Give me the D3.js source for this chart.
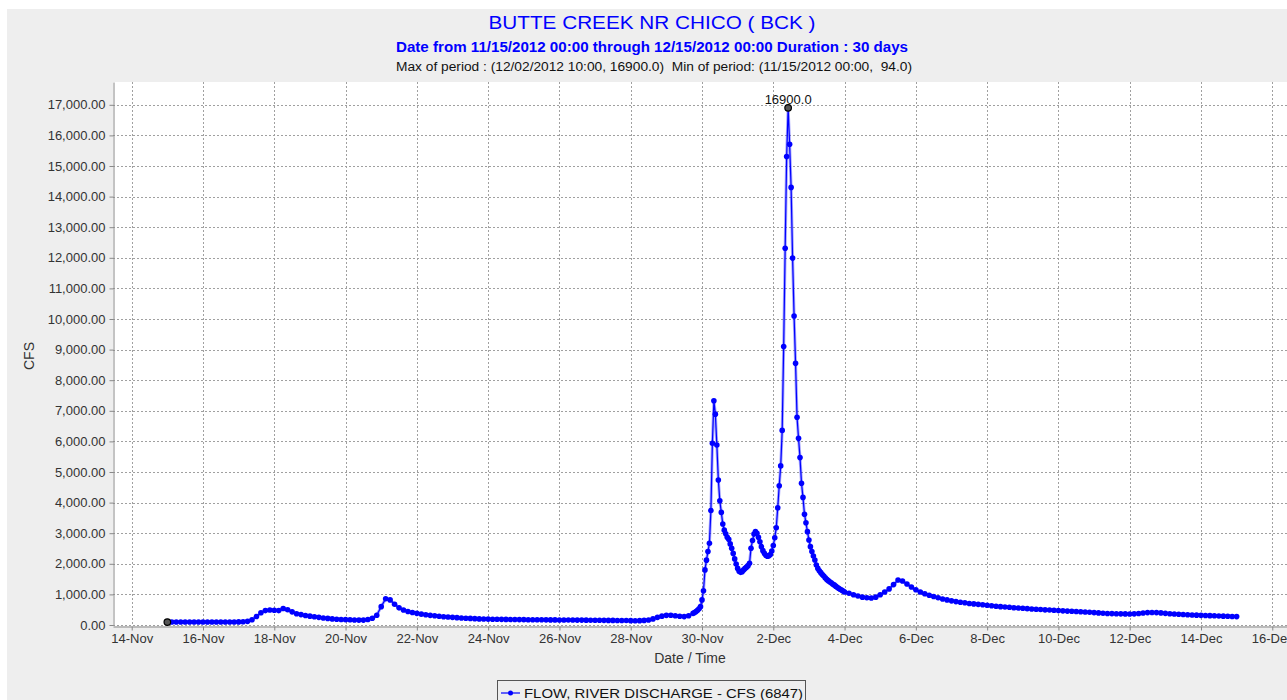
<!DOCTYPE html>
<html>
<head>
<meta charset="utf-8">
<script src="https://cdnjs.cloudflare.com/ajax/libs/d3/7.8.5/d3.min.js"></script>
<style>
  body { margin: 0; background: #fff; }
  text { font-family: "Liberation Sans", Arial, sans-serif; }
</style>
</head>
<body>
<script>
/*
 * Butte Creek nr Chico (BCK) - river flow, 11/15/2012 to 12/15/2012
 */

var titleText = "BUTTE CREEK NR CHICO ( BCK )";
var subTitleText = "Date from 11/15/2012 00:00 through 12/15/2012 00:00 Duration : 30 days";
var statsText = "Max of period : (12/02/2012 10:00, 16900.0)  Min of period: (11/15/2012 00:00,  94.0)";
var legendText = "FLOW, RIVER DISCHARGE - CFS (6847)";
var peakLabel = "16900.0";

var yTicks = [0, 1000, 2000, 3000, 4000, 5000, 6000, 7000, 8000, 9000,
              10000, 11000, 12000, 13000, 14000, 15000, 16000, 17000];

// flow (cfs), every 3 hours from 11/15 00:00 to 11/29 18:00
var earlyFlow = [
  94, 96, 98, 100, 100, 100, 100, 100,
  100, 100, 100, 100, 100, 100, 100, 100,
  102, 105, 120, 170, 280, 400, 470, 490,
  480, 470, 540, 500, 430, 370, 340, 310,
  290, 270, 250, 230, 215, 200, 190, 180,
  175, 170, 165, 160, 160, 180, 220, 320,
  600, 860, 820, 680, 560, 490, 440, 410,
  380, 355, 335, 315, 300, 285, 270, 260,
  250, 240, 230, 222, 215, 208, 200, 196,
  192, 190, 188, 185, 183, 180, 178, 176,
  175, 173, 172, 170, 170, 168, 167, 166,
  165, 164, 163, 162, 160, 160, 158, 157,
  155, 153, 152, 150, 150, 148, 146, 145,
  142, 140, 142, 150, 165, 200, 250, 290,
  315, 320, 300, 285, 275, 300, 380
];

// flow (cfs), hourly from 11/29 19:00 to 12/04 00:00 (the two storm peaks)
var stormFlow = [
  410, 440, 480, 530, 600,
  820, 1120, 1800, 2120, 2400, 2670, 3740, 5940,
  7330, 6890, 5880, 4740, 4060, 3680, 3300, 3100,
  2980, 2870, 2800, 2650, 2510, 2340, 2160, 1990,
  1850, 1760, 1720, 1740, 1800, 1850, 1890, 1940,
  2020, 2510, 2760, 2970, 3050, 3000, 2870, 2720,
  2560, 2430, 2340, 2280, 2250, 2260, 2300, 2420,
  2600, 2850, 3180, 3830, 4550, 5200, 6360, 9100,
  12310, 15310, 16900, 15710, 14300, 11990, 10100, 8550,
  6790, 6100, 5470, 4630, 4170, 3620, 3340, 3050,
  2780, 2560, 2400, 2255, 2125, 1960, 1850, 1775,
  1710, 1650, 1600, 1540, 1490, 1450, 1415, 1380,
  1340, 1310, 1270, 1230, 1200, 1170, 1140, 1110,
  1080
];

// flow (cfs), every 3 hours from 12/04 03:00 to 12/15 00:00
var recessionFlow = [
  1040, 990, 950, 910, 890, 880, 910, 990,
  1080, 1180, 1320, 1470, 1440, 1340, 1240, 1150,
  1080, 1020, 970, 930, 890, 850, 820, 790,
  765, 745, 725, 705, 690, 675, 660, 645,
  630, 615, 600, 590, 580, 565, 555, 545,
  535, 525, 515, 505, 495, 488, 480, 470,
  462, 455, 448, 440, 432, 425, 415, 405,
  395, 385, 378, 372, 368, 365, 362, 360,
  365, 375, 390, 405, 410, 405, 395, 380,
  370, 360, 350, 342, 335, 328, 322, 316,
  310, 305, 300, 295, 290, 285, 280, 275
];

var t0 = new Date(2012, 10, 15, 0, 0);

function segment(startHour, stepHours, values) {
  return values.map(function(v, i) {
    return {date: d3.timeHour.offset(t0, startHour + i * stepHours), cfs: v};
  });
}

var series = segment(0, 3, earlyFlow)
  .concat(segment(355, 1, stormFlow))
  .concat(segment(459, 3, recessionFlow));

var maxPt = series.reduce(function(a, b) { return b.cfs > a.cfs ? b : a; });
var minPt = series.reduce(function(a, b) { return b.cfs < a.cfs ? b : a; });

var width = 1287, height = 700;
var plot = {left: 113, right: 1291, top: 82, bottom: 626};

var svg = d3.select("body").append("svg")
  .attr("width", width)
  .attr("height", height);

// chart background
svg.append("rect")
  .attr("x", 7).attr("y", 9)
  .attr("width", width).attr("height", height)
  .attr("fill", "#eeeeee");

var pad = 36.6 * 3600e3; // axis margin each side
var x = d3.scaleTime()
  .domain([new Date(+t0 - pad), new Date(+d3.timeHour.offset(t0, 720) + pad)])
  .range([plot.left, plot.right]);

var y = d3.scaleLinear()
  .domain([0, 17745])
  .range([625, plot.top]);

var xTicks = d3.timeDay.range(new Date(2012, 10, 14), new Date(2012, 11, 17), 2);

// plot area
svg.append("rect")
  .attr("x", plot.left).attr("y", plot.top)
  .attr("width", plot.right - plot.left).attr("height", plot.bottom - plot.top)
  .attr("fill", "#ffffff");

svg.append("clipPath").attr("id", "clip")
  .append("rect")
  .attr("x", plot.left).attr("y", plot.top)
  .attr("width", plot.right - plot.left).attr("height", plot.bottom - plot.top);

// grid
var grid = svg.append("g")
  .attr("stroke", "#a0a0a0")
  .attr("stroke-dasharray", "2,2")
  .attr("stroke-width", 1);

grid.selectAll(".hg").data(yTicks).enter().append("line")
  .attr("x1", plot.left).attr("x2", plot.right)
  .attr("y1", function(d) { return Math.round(y(d)) + 0.5; })
  .attr("y2", function(d) { return Math.round(y(d)) + 0.5; });

grid.selectAll(".vg").data(xTicks).enter().append("line")
  .attr("y1", plot.top).attr("y2", plot.bottom)
  .attr("x1", function(d) { return Math.round(x(d)) + 0.5; })
  .attr("x2", function(d) { return Math.round(x(d)) + 0.5; });

// axes
var yAxis = svg.append("g")
  .attr("transform", "translate(" + (plot.left + 0.5) + ",0)")
  .call(d3.axisLeft(y).tickValues(yTicks).tickFormat(d3.format(",.2f"))
    .tickSize(4).tickPadding(4).tickSizeOuter(0));

var xAxis = svg.append("g")
  .attr("transform", "translate(0," + (plot.bottom + 0.5) + ")")
  .call(d3.axisBottom(x).tickValues(xTicks).tickFormat(d3.timeFormat("%-d-%b"))
    .tickSize(4).tickPadding(3).tickSizeOuter(0));

[yAxis, xAxis].forEach(function(a) {
  a.select(".domain").attr("stroke", "#888");
  a.selectAll(".tick line").attr("stroke", "#888");
  a.selectAll(".tick text")
    .attr("fill", "#333")
    .style("font-size", "13px")
    .style("font-family", "'Liberation Sans', Arial, sans-serif");
});

// series
var lineGen = d3.line()
  .x(function(d) { return x(d.date); })
  .y(function(d) { return y(d.cfs); });

var g = svg.append("g").attr("clip-path", "url(#clip)");

g.append("path")
  .datum(series)
  .attr("d", lineGen)
  .attr("fill", "none")
  .attr("stroke", "#0000ff")
  .attr("stroke-opacity", 0.35)
  .attr("stroke-width", 3);

g.append("path")
  .datum(series)
  .attr("d", lineGen)
  .attr("fill", "none")
  .attr("stroke", "#0000ff")
  .attr("stroke-width", 1.2);

g.selectAll(".pt").data(series).enter().append("circle")
  .attr("cx", function(d) { return x(d.date); })
  .attr("cy", function(d) { return y(d.cfs); })
  .attr("r", 2.8)
  .attr("fill", "#0000ff");

// min / max markers
g.selectAll(".mm").data([minPt, maxPt]).enter().append("circle")
  .attr("cx", function(d) { return x(d.date); })
  .attr("cy", function(d) { return y(d.cfs); })
  .attr("r", 3.3)
  .attr("fill", "#555")
  .attr("stroke", "#000")
  .attr("stroke-width", 1.2);

svg.append("text")
  .attr("x", x(maxPt.date))
  .attr("y", y(maxPt.cfs) - 4)
  .attr("text-anchor", "middle")
  .style("font-size", "13px")
  .attr("fill", "#111")
  .text(peakLabel);

// titles
svg.append("text")
  .attr("x", 652).attr("y", 29)
  .attr("text-anchor", "middle")
  .attr("textLength", 327).attr("lengthAdjust", "spacingAndGlyphs")
  .style("font-size", "19px")
  .attr("fill", "#0000ff")
  .text(titleText);

svg.append("text")
  .attr("x", 652).attr("y", 52)
  .attr("text-anchor", "middle")
  .attr("textLength", 512).attr("lengthAdjust", "spacingAndGlyphs")
  .style("font-size", "14px").style("font-weight", "bold")
  .attr("fill", "#0000ff")
  .text(subTitleText);

svg.append("text")
  .attr("x", 654).attr("y", 70.5)
  .attr("text-anchor", "middle")
  .attr("textLength", 516).attr("lengthAdjust", "spacingAndGlyphs")
  .style("font-size", "12.5px").style("white-space", "pre")
  .attr("fill", "#111")
  .text(statsText);

// axis titles
svg.append("text")
  .attr("transform", "translate(34,356) rotate(-90)")
  .attr("text-anchor", "middle")
  .style("font-size", "14px")
  .attr("fill", "#333")
  .text("CFS");

svg.append("text")
  .attr("x", 690).attr("y", 663)
  .attr("text-anchor", "middle")
  .style("font-size", "14px")
  .attr("fill", "#333")
  .text("Date / Time");

// legend
var legend = svg.append("g");
legend.append("rect")
  .attr("x", 497.5).attr("y", 680.5)
  .attr("width", 308).attr("height", 40)
  .attr("fill", "none")
  .attr("stroke", "#555");
legend.append("line")
  .attr("x1", 501).attr("x2", 520)
  .attr("y1", 693).attr("y2", 693)
  .attr("stroke", "#0000ff").attr("stroke-width", 1.2);
legend.append("circle")
  .attr("cx", 510.5).attr("cy", 693).attr("r", 2.5)
  .attr("fill", "#0000ff");
legend.append("text")
  .attr("x", 524).attr("y", 697.5)
  .attr("textLength", 279).attr("lengthAdjust", "spacingAndGlyphs")
  .style("font-size", "13px")
  .attr("fill", "#111")
  .text(legendText);
</script>
</body>
</html>
